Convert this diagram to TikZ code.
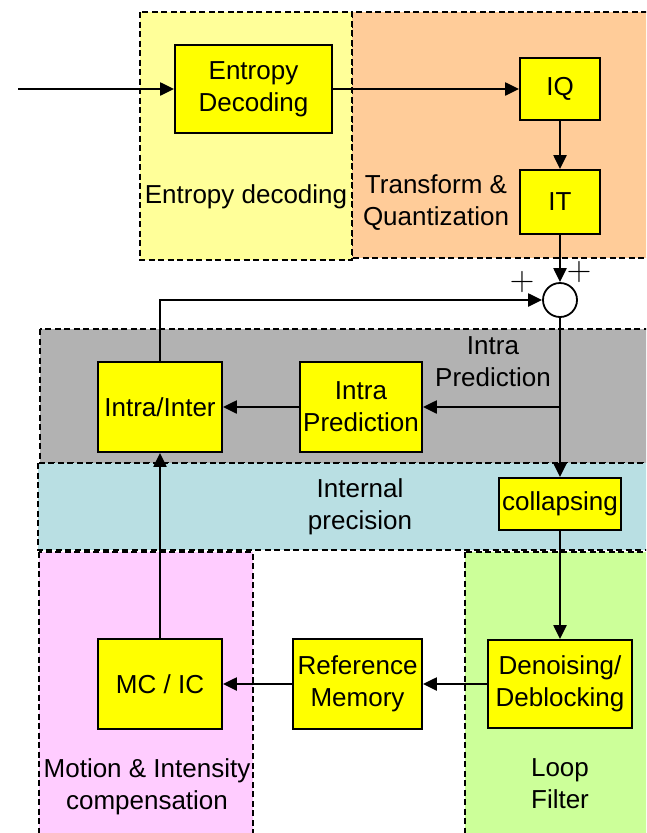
\documentclass[tikz,border=0pt]{standalone}
\usepackage{fontspec}
\setmainfont{Liberation Sans}
\usetikzlibrary{arrows.meta}
\definecolor{edreg}{HTML}{FFFF99}
\definecolor{tqreg}{HTML}{FFCC99}
\definecolor{ipreg}{HTML}{B2B2B2}
\definecolor{prreg}{RGB}{185,223,227}
\definecolor{mcreg}{HTML}{FFCCFF}
\definecolor{lfreg}{HTML}{CCFF99}
\definecolor{boxyellow}{HTML}{FFFF00}
\begin{document}
\begin{tikzpicture}[x=1pt,y=-1pt,
  every node/.style={font=\fontsize{26}{32}\selectfont, align=center, inner sep=0pt},
  region/.style={draw, dash pattern=on 6pt off 3.5pt, line width=1.6pt},
  block/.style={draw, line width=1.8pt, fill=boxyellow},
  conn/.style={line width=2.2pt, -{Triangle[length=14pt,width=13pt]}},
  sumnode/.style={circle, draw, fill=white, line width=1.8pt, minimum size=34pt},
  plussign/.style={font={\fontfamily{lmr}\fontsize{34}{34}\selectfont}}
]
\useasboundingbox (0,0) rectangle (646,833);
\clip (0,0) rectangle (646,833);
% regions
\path[region, fill=tqreg] (352,12) rectangle (700,258);
\path[region, fill=edreg] (140,12) rectangle (352,260);
\path[region, fill=ipreg] (40,329) rectangle (700,463);
\path[region, fill=prreg] (38,463) rectangle (700,550);
\path[region, fill=mcreg] (39,552) rectangle (253,900);
\path[region, fill=lfreg] (465,552) rectangle (700,900);
% region labels
\node[anchor=base] (lbled) at (246,203) {Entropy decoding};
\node (lbltq) at (436,203) {Transform \&\\Quantization};
\node (lblip) at (493,362) {Intra\\Prediction};
\node (lblpr) at (360,507) {Internal\\precision};
\node (lblmc) at (147,787) {Motion \& Intensity\\compensation};
\node (lbllf) at (560,784) {Loop\\Filter};
% blocks
\node[block, minimum width=157pt, minimum height=88pt] (ed) at (253.5,89) {Entropy\\Decoding};
\node[block, minimum width=80pt, minimum height=62pt] (iq) at (560,89) {IQ};
\node[block, minimum width=80pt, minimum height=64pt] (it) at (560,202) {IT};
\node[sumnode] (sum) at (560,300) {};
\node[block, minimum width=124pt, minimum height=90pt] (ii) at (160,407) {Intra/Inter};
\node[block, minimum width=122pt, minimum height=90pt] (ip) at (361,407) {Intra\\Prediction};
\node[block, minimum width=122pt, minimum height=52pt] (coll) at (560,504) {collapsing};
\node[block, minimum width=124pt, minimum height=90pt] (mc) at (160,684) {MC / IC};
\node[block, minimum width=129pt, minimum height=90pt] (rm) at (357.5,684) {Reference\\Memory};
\node[block, minimum width=144pt, minimum height=88pt] (dd) at (560,684) {Denoising/\\Deblocking};
% plus signs
\node[plussign] (plusa) at (522,282) {+};
\node[plussign] (plusb) at (579,272) {+};
% connectors
\coordinate (in) at (18,89);
\draw[conn] (in) -- (ed.west);
\draw[conn] (ed.east) -- (iq.west);
\draw[conn] (iq.south) -- (it.north);
\draw[conn] (it.south) -- (sum.north);
\draw[conn] (ii.north) |- (sum.west);
\draw[conn] (sum.south) -- (coll.north);
\draw[conn] (sum.south |- ip.east) -- (ip.east);
\draw[conn] (ip.west) -- (ii.east);
\draw[conn] (coll.south) -- (dd.north);
\draw[conn] (dd.west) -- (rm.east);
\draw[conn] (rm.west) -- (mc.east);
\draw[conn] (mc.north) -- (ii.south);
\end{tikzpicture}
\end{document}
